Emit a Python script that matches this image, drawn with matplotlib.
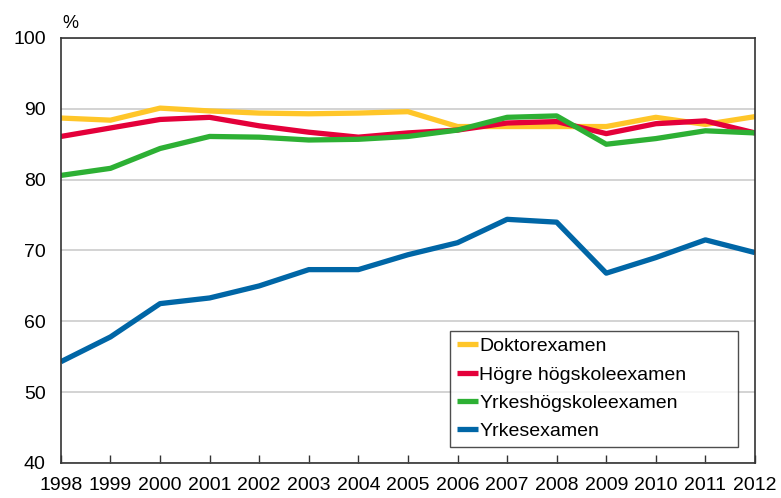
import matplotlib
matplotlib.use("Agg")
import matplotlib.pyplot as plt

plt.rcParams["font.family"] = ["Liberation Sans", "DejaVu Sans"]

# data
years = list(range(1998, 2013))
doktor = [88.7, 88.4, 90.1, 89.7, 89.4, 89.3, 89.4, 89.6, 87.5, 87.5, 87.5, 87.5, 88.8, 87.8, 88.9]
hogre = [86.1, 87.3, 88.5, 88.8, 87.6, 86.7, 86.0, 86.6, 87.0, 88.0, 88.2, 86.5, 87.9, 88.3, 86.6]
yrkeshogskole = [80.6, 81.6, 84.4, 86.1, 86.0, 85.6, 85.7, 86.1, 87.0, 88.8, 89.0, 85.0, 85.8, 86.9, 86.6]
yrkes = [54.3, 57.8, 62.5, 63.3, 65.0, 67.3, 67.3, 69.4, 71.1, 74.4, 74.0, 66.8, 69.0, 71.5, 69.7]

series = [
    ("Doktorexamen", doktor, "#FFC629"),
    ("Högre högskoleexamen", hogre, "#E4003A"),
    ("Yrkeshögskoleexamen", yrkeshogskole, "#2DB034"),
    ("Yrkesexamen", yrkes, "#0066A6"),
]

fig = plt.figure(figsize=(7.81, 4.98), dpi=100)
ax = fig.add_axes([0.078, 0.0703, 0.8887, 0.8534])

for name, vals, col in series:
    ax.plot(years, vals, color=col, linewidth=3.8, label=name,
            solid_joinstyle="round", solid_capstyle="butt")

ax.set_xlim(1998, 2012)
ax.set_ylim(40, 100)
ax.set_xticks(years)
ax.set_yticks(range(40, 101, 10))
ax.tick_params(axis="x", direction="in", length=6, width=1, color="#333333",
               labelsize=14, pad=10)
ax.tick_params(axis="y", length=0, labelsize=14, pad=11)
ax.yaxis.grid(True, color="#cccccc", linewidth=1.2)
ax.set_axisbelow(True)
for s in ax.spines.values():
    s.set_color("#333333")
    s.set_linewidth(1.2)

ax.text(0.002, 1.024, "%", transform=ax.transAxes, fontsize=13, ha="left", va="baseline")

# legend box spans a fixed width, text left aligned
leg = ax.legend(loc="lower left", bbox_to_anchor=(0.5605, 0.0376, 0.415, 0.27),
                mode="expand", fontsize=14,
                frameon=True, fancybox=False, edgecolor="#222222",
                handlelength=1.1, handletextpad=0.05, labelspacing=0.55,
                borderpad=0.35, borderaxespad=0)
leg.get_frame().set_linewidth(1.0)

fig.savefig("out.png", dpi=100)
